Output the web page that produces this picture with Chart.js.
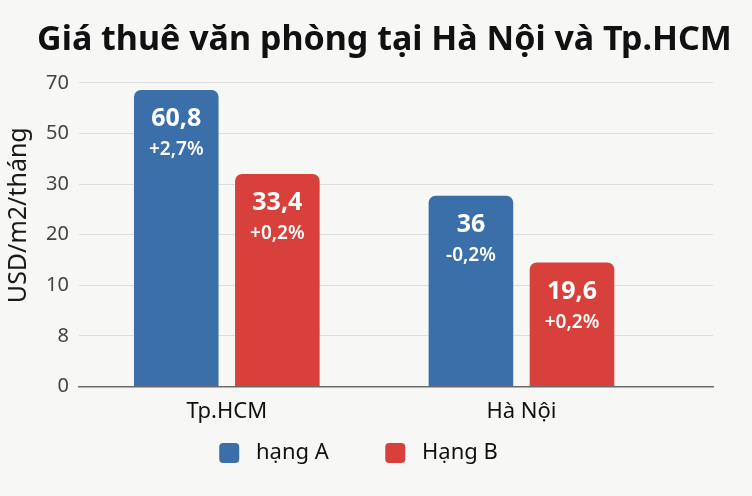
<!DOCTYPE html>
<html>
<head>
<meta charset="utf-8">
<script src="https://cdn.jsdelivr.net/npm/chart.js@4.4.1/dist/chart.umd.min.js"></script>
<style>
    html, body { margin: 0; padding: 0; background: #f7f7f5; }
    #wrap { width: 752px; height: 496px; }
</style>
</head>
<body>
<div id="wrap"><canvas id="rentChart"></canvas></div>
<script>
// Categories and series
const cities = ['Tp.HCM', 'Hà Nội'];
const seriesNames = ['hạng A', 'Hạng B'];

// Printed values on the bars (USD/m2/tháng) and yearly change
const gradeAValues = ['60,8', '36'];
const gradeBValues = ['33,4', '19,6'];
const gradeAChange = ['+2,7%', '-0,2%'];
const gradeBChange = ['+0,2%', '+0,2%'];

// Bar heights as drawn, in steps of the (uneven) y axis below
const gradeAHeights = [5.86, 3.77];
const gradeBHeights = [4.20, 2.45];

// Tick labels of the y axis, evenly spaced in the picture
const yTickLabels = ['0', '8', '10', '20', '30', '50', '70'];

const blue = '#3b6fa9';
const red = '#d7403b';

document.addEventListener('DOMContentLoaded', function() {
    const ctx = document.getElementById('rentChart').getContext('2d');

    // White value + change labels inside the bar tops
    const barText = {
        id: 'barText',
        afterLayout(chart) {
            // title sits a little right of centre in the original
            if (chart.titleBlock) {
                chart.titleBlock.left += 26;
                chart.titleBlock.right += 26;
            }
        },
        afterDatasetsDraw(chart) {
            const c = chart.ctx;
            const printed = [[gradeAValues, gradeAChange], [gradeBValues, gradeBChange]];
            chart.data.datasets.forEach(function(ds, di) {
                const meta = chart.getDatasetMeta(di);
                meta.data.forEach(function(bar, i) {
                    c.save();
                    c.fillStyle = '#ffffff';
                    c.textAlign = 'center';
                    c.textBaseline = 'middle';
                    c.font = 'bold 25px "Noto Sans"';
                    c.fillText(printed[di][0][i], bar.x, bar.y + 29);
                    c.font = '600 19px "Noto Sans"';
                    c.fillText(printed[di][1][i], bar.x, bar.y + 60);
                    c.restore();
                });
            });
        }
    };

    new Chart(ctx, {
        type: 'bar',
        data: {
            datasets: [
                {
                    label: seriesNames[0],
                    data: gradeAHeights.map((h, i) => ({ x: i, y: h })),
                    backgroundColor: blue,
                    borderRadius: { topLeft: 7, topRight: 7 },
                    borderSkipped: 'bottom'
                },
                {
                    label: seriesNames[1],
                    data: gradeBHeights.map((h, i) => ({ x: i, y: h })),
                    backgroundColor: red,
                    borderRadius: { topLeft: 7, topRight: 7 },
                    borderSkipped: 'bottom'
                }
            ]
        },
        options: {
            responsive: true,
            maintainAspectRatio: false,
            animation: false,
            categoryPercentage: 0.686,
            barPercentage: 0.837,
            layout: { padding: { left: 4, right: 39, bottom: 22 } },
            scales: {
                x: {
                    type: 'linear',
                    offset: false,
                    min: -0.502,
                    max: 1.65,
                    afterBuildTicks: function(scale) {
                        scale.ticks = cities.map((c, i) => ({ value: i }));
                    },
                    ticks: {
                        callback: function(value) { return cities[value]; },
                        color: '#111',
                        font: { family: 'Noto Sans', size: 22 },
                        padding: 12
                    },
                    grid: { display: false, drawTicks: false, offset: false },
                    border: { display: true, color: '#6b6b6b', width: 1.5 }
                },
                y: {
                    min: 0,
                    max: 6,
                    afterBuildTicks: function(scale) {
                        scale.ticks = yTickLabels.map((t, i) => ({ value: i }));
                    },
                    ticks: {
                        callback: function(value) { return yTickLabels[value]; },
                        color: '#444',
                        font: { family: 'Noto Sans', size: 20 },
                        padding: 10
                    },
                    grid: { color: '#dddddd', lineWidth: 1, drawTicks: false },
                    border: { display: false },
                    title: {
                        display: true,
                        // leading spaces lift the text toward the top like the original
                        text: '      USD/m2/tháng',
                        color: '#1a1a1a',
                        font: { family: 'Noto Sans', size: 25 },
                        padding: { top: 0, bottom: 2 }
                    }
                }
            },
            plugins: {
                title: {
                    display: true,
                    text: 'Giá thuê văn phòng tại Hà Nội và Tp.HCM',
                    color: '#111',
                    font: { family: 'Noto Sans', size: 34, weight: 'bold' },
                    padding: { top: 20, bottom: 22 }
                },
                legend: {
                    position: 'bottom',
                    labels: {
                        color: '#111',
                        font: { family: 'Noto Sans', size: 22 },
                        boxWidth: 20,
                        boxHeight: 20,
                        useBorderRadius: true,
                        borderRadius: 4,
                        padding: 5,
                        generateLabels: function(chart) {
                            const items = Chart.defaults.plugins.legend.labels.generateLabels(chart);
                            const tails = ['         ', ''];
                            items.forEach(function(it, i) { it.text = ' ' + it.text + tails[i]; });
                            return items;
                        }
                    }
                },
                tooltip: { enabled: false }
            }
        },
        plugins: [barText]
    });
});
</script>
</body>
</html>
